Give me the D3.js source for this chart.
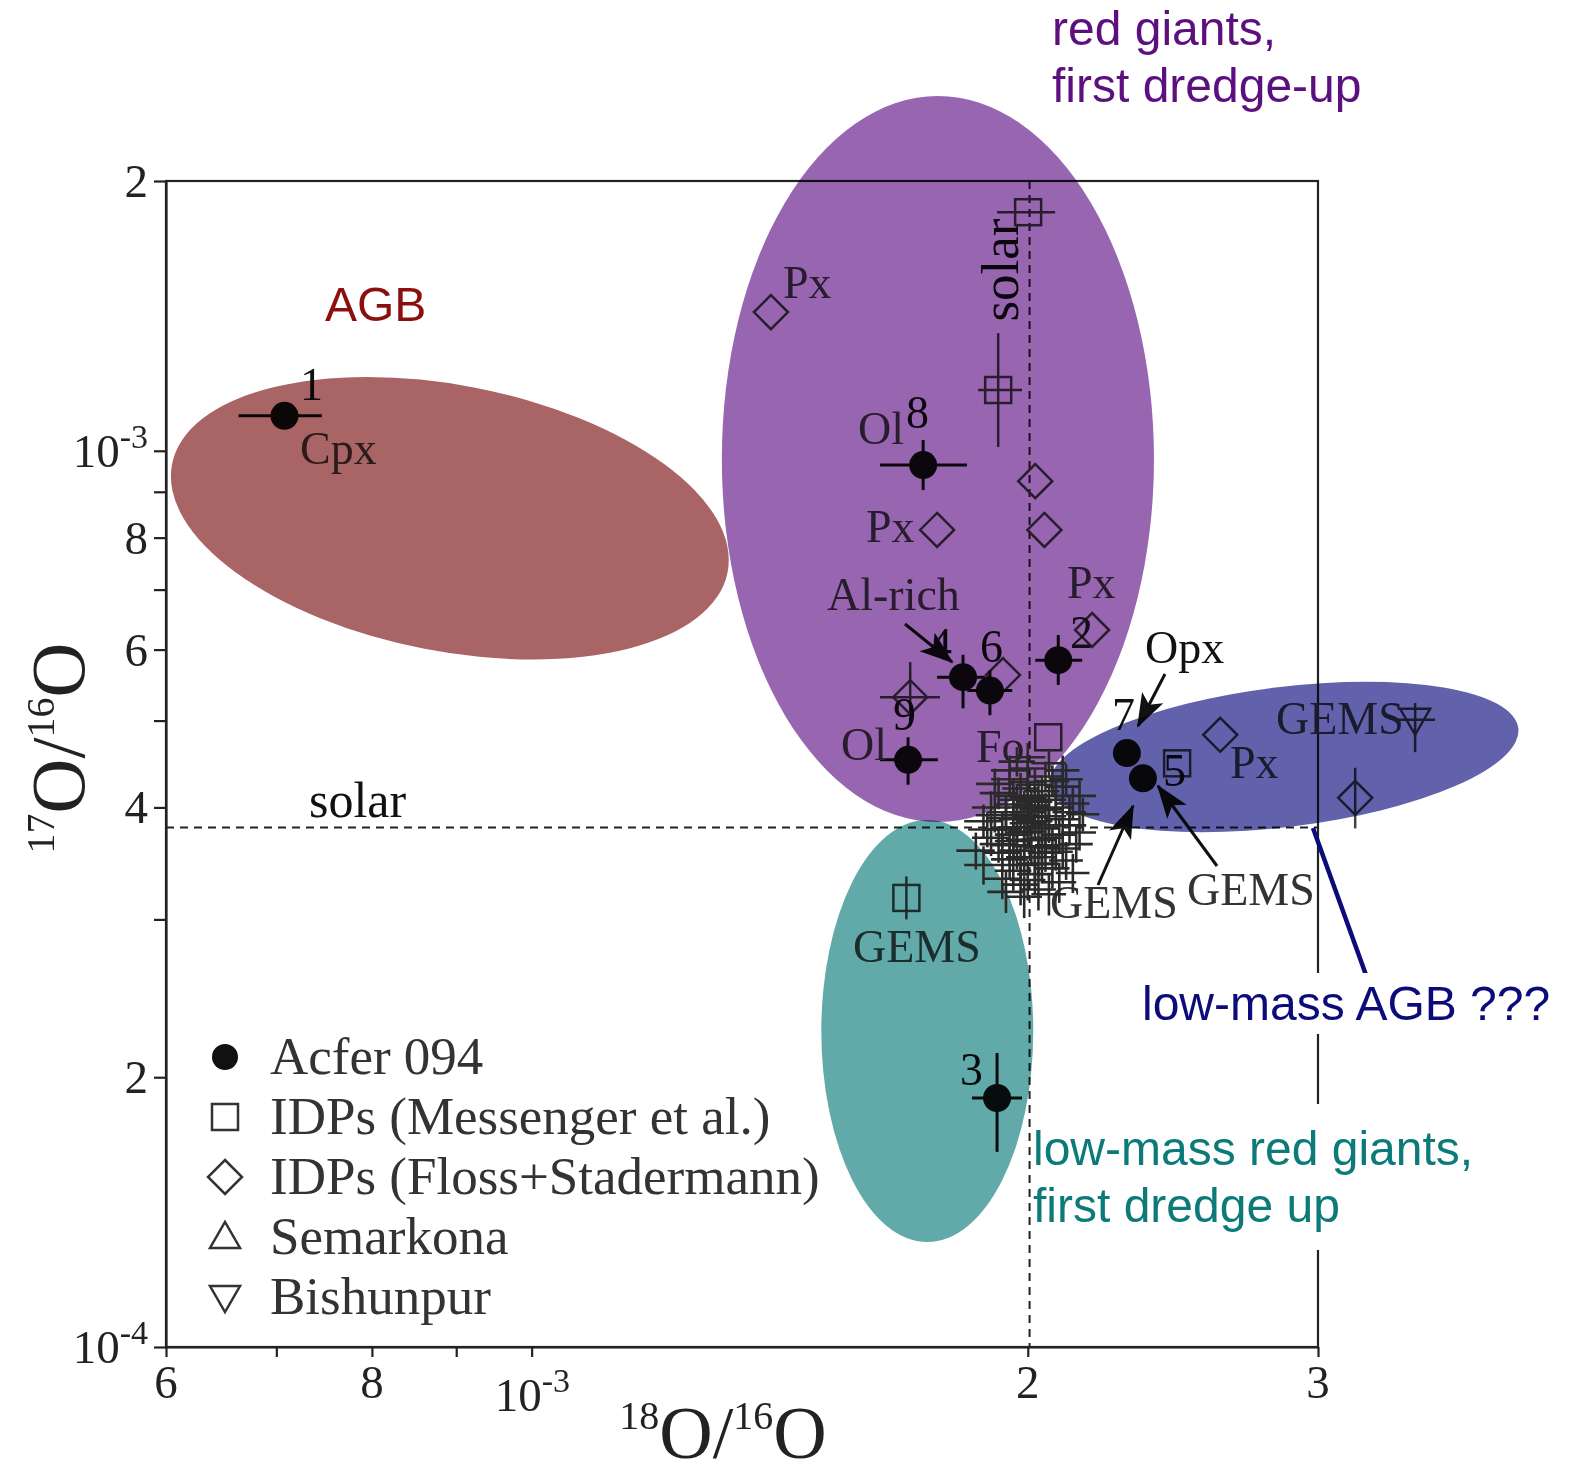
<!DOCTYPE html>
<html>
<head>
<meta charset="utf-8">
<script src="https://cdn.jsdelivr.net/npm/d3@7"></script>
<style>
  body { margin: 0; background: #fff; }
  .serif { font-family: "Liberation Serif", "Times New Roman", serif; }
  .sans { font-family: "Liberation Sans", Arial, sans-serif; }
</style>
</head>
<body>
<div class="chart"></div>
<script>
// Oxygen isotope ratios: 17O/16O vs 18O/16O
var svgWidth = 1570;
var svgHeight = 1476;

// Acfer 094 grains (filled circles) with error ranges
var acfer094 = [
  { id: "1", x: 7.08e-4, y: 1.094e-3, xe: [6.64e-4, 7.46e-4], ye: [1.061e-3, 1.125e-3] },
  { id: "8", x: 1.728e-3, y: 9.64e-4, xe: [1.627e-3, 1.837e-3], ye: [9.04e-4, 1.028e-3] },
  { id: "4", x: 1.827e-3, y: 5.59e-4, xe: [1.762e-3, 1.884e-3], ye: [5.16e-4, 5.92e-4] },
  { id: "6", x: 1.897e-3, y: 5.40e-4, xe: [1.838e-3, 1.957e-3], ye: [5.07e-4, 5.69e-4] },
  { id: "2", x: 2.087e-3, y: 5.84e-4, xe: [2.021e-3, 2.158e-3], ye: [5.48e-4, 6.23e-4] },
  { id: "9", x: 1.692e-3, y: 4.52e-4, xe: [1.627e-3, 1.764e-3], ye: [4.24e-4, 4.79e-4] },
  { id: "7", x: 2.297e-3, y: 4.60e-4, xe: null, ye: null },
  { id: "5", x: 2.349e-3, y: 4.31e-4, xe: null, ye: null },
  { id: "3", x: 1.916e-3, y: 1.896e-4, xe: [1.850e-3, 1.984e-3], ye: [1.651e-4, 2.128e-4] }
];

// IDPs (Messenger et al.) - open squares
var idpMessenger = [
  { x: 2.001e-3, y: 1.846e-3, xe: [1.916e-3, 2.078e-3], ye: null },
  { x: 1.919e-3, y: 1.169e-3, xe: [1.866e-3, 1.984e-3], ye: [1.010e-3, 1.353e-3] },
  { x: 2.058e-3, y: 4.79e-4, xe: null, ye: null },
  { x: 1.688e-3, y: 3.17e-4, xe: null, ye: [3.00e-4, 3.35e-4] },
  { x: 2.464e-3, y: 4.48e-4, xe: null, ye: null }
];

// IDPs (Floss+Stadermann) - open diamonds
var idpFloss = [
  { x: 1.397e-3, y: 1.428e-3, xe: null, ye: null },
  { x: 2.021e-3, y: 9.25e-4, xe: null, ye: null },
  { x: 2.047e-3, y: 8.16e-4, xe: null, ye: null },
  { x: 1.762e-3, y: 8.16e-4, xe: null, ye: null },
  { x: 2.188e-3, y: 6.31e-4, xe: null, ye: null },
  { x: 2.617e-3, y: 4.82e-4, xe: null, ye: null },
  { x: 3.160e-3, y: 4.10e-4, xe: null, ye: [3.79e-4, 4.43e-4] },
  { x: 1.932e-3, y: 5.62e-4, xe: null, ye: null },
  { x: 1.697e-3, y: 5.31e-4, xe: [1.627e-3, 1.769e-3], ye: [4.94e-4, 5.81e-4] }
];

// Bishunpur - open down triangles
var bishunpur = [
  { x: 3.436e-3, y: 5.01e-4, xe: [3.355e-3, 3.533e-3], ye: [4.61e-4, 5.23e-4] }
];

// near-solar grains (dense cloud of error crosses)
var solarGrains = [
  [1.95e-3, 4.30e-4], [2.00e-3, 4.42e-4], [2.05e-3, 4.33e-4], [2.10e-3, 4.40e-4], [1.97e-3, 4.50e-4],
  [1.92e-3, 4.15e-4], [1.98e-3, 4.20e-4], [2.04e-3, 4.17e-4], [2.10e-3, 4.22e-4], [2.15e-3, 4.12e-4],
  [1.90e-3, 4.00e-4], [1.96e-3, 4.03e-4], [2.02e-3, 4.06e-4], [2.08e-3, 4.00e-4], [2.13e-3, 4.04e-4],
  [1.88e-3, 3.86e-4], [1.94e-3, 3.89e-4], [2.00e-3, 3.84e-4], [2.06e-3, 3.91e-4], [2.12e-3, 3.82e-4],
  [2.16e-3, 3.93e-4], [1.90e-3, 3.70e-4], [1.96e-3, 3.73e-4], [2.03e-3, 3.68e-4], [2.09e-3, 3.73e-4],
  [2.14e-3, 3.64e-4], [1.93e-3, 3.56e-4], [1.99e-3, 3.52e-4], [2.05e-3, 3.56e-4], [2.11e-3, 3.49e-4],
  [1.96e-3, 3.40e-4], [2.02e-3, 3.37e-4], [2.07e-3, 3.42e-4], [1.98e-3, 3.28e-4], [2.03e-3, 3.24e-4],
  [1.86e-3, 3.58e-4], [1.88e-3, 3.45e-4], [2.00e-3, 3.95e-4], [1.97e-3, 3.80e-4], [2.04e-3, 3.79e-4],
  [2.01e-3, 3.62e-4], [1.93e-3, 3.33e-4], [2.09e-3, 3.30e-4], [1.91e-3, 4.25e-4], [2.06e-3, 4.48e-4],
  [1.99e-3, 3.18e-4], [2.13e-3, 3.38e-4], [1.95e-3, 3.63e-4], [2.07e-3, 3.63e-4], [2.00e-3, 4.10e-4],
  [1.94e-3, 3.95e-4], [1.99e-3, 4.00e-4], [2.03e-3, 3.98e-4], [2.06e-3, 4.08e-4], [1.96e-3, 4.12e-4],
  [2.02e-3, 4.24e-4], [2.07e-3, 4.28e-4], [1.93e-3, 3.78e-4], [1.99e-3, 3.75e-4], [2.06e-3, 3.82e-4],
  [2.10e-3, 3.88e-4], [1.92e-3, 3.64e-4], [1.97e-3, 3.58e-4], [2.03e-3, 3.52e-4], [2.08e-3, 3.57e-4],
  [1.98e-3, 3.45e-4], [2.04e-3, 3.46e-4], [2.00e-3, 3.32e-4], [1.95e-3, 3.50e-4], [2.10e-3, 3.60e-4],
  [1.89e-3, 3.78e-4], [1.91e-3, 3.92e-4], [2.12e-3, 3.95e-4], [2.01e-3, 3.90e-4], [1.97e-3, 3.88e-4],
  [2.05e-3, 3.70e-4], [1.99e-3, 3.68e-4], [2.03e-3, 4.12e-4], [1.95e-3, 4.40e-4], [2.08e-3, 4.12e-4],
  [1.94e-3, 3.22e-4], [2.06e-3, 3.20e-4], [2.11e-3, 4.30e-4], [2.00e-3, 4.55e-4], [2.15e-3, 3.75e-4],
  [1.98e-3, 3.92e-4], [2.02e-3, 3.86e-4], [1.96e-3, 3.67e-4], [2.04e-3, 3.61e-4], [2.01e-3, 4.02e-4],
  [1.97e-3, 4.08e-4], [2.05e-3, 3.98e-4], [2.00e-3, 3.76e-4], [2.02e-3, 3.46e-4], [2.00e-3, 4.27e-4]
];
var solarGrainErr = [0.05e-3, 0.17e-4];

// solar reference ratios
var solar = { x: 2.005e-3, y: 3.8e-4 };

// stellar source regions: centre (data), semi-axes in decades, tilt in degrees
var regions = [
  { key: "agb", x: 8.92e-4, y: 8.41e-4, dx: 0.1717, dy: 0.1484, tilt: 11 },
  { key: "rg", x: 1.764e-3, y: 9.79e-4, dx: 0.1311, dy: 0.4050, tilt: 0 },
  { key: "lmrg", x: 1.738e-3, y: 2.252e-4, dx: 0.0643, dy: 0.2354, tilt: 0 },
  { key: "lmagb", x: 2.861e-3, y: 4.553e-4, dx: 0.1432, dy: 0.0781, tilt: -7 }
];

// axis ticks and labels
var xTicks = [6e-4, 7e-4, 8e-4, 9e-4, 1e-3, 2e-3, 3e-3];
var xTickLabels = [["6"], [""], ["8"], [""], ["10", "-3"], ["2"], ["3"]];
var yTicks = [1e-4, 2e-4, 3e-4, 4e-4, 5e-4, 6e-4, 7e-4, 8e-4, 9e-4, 1e-3, 2e-3];
var yTickLabels = [["10", "-4"], ["2"], [""], ["4"], [""], ["6"], [""], ["8"], [""], ["10", "-3"], ["2"]];

var legendLabels = ["Acfer 094", "IDPs (Messenger et al.)", "IDPs (Floss+Stadermann)", "Semarkona", "Bishunpur"];

var regionColors = { agb: "#a96565", rg: "#9866b0", lmrg: "#62aaa9", lmagb: "#6262ac" };

var svg = d3.select(".chart")
  .append("svg")
  .attr("width", svgWidth)
  .attr("height", svgHeight);

svg.append("rect").attr("width", svgWidth).attr("height", svgHeight).attr("fill", "#fff");

var x = d3.scaleLog().domain([6e-4, 3e-3]).range([166, 1318]);
var y = d3.scaleLog().domain([1e-4, 2e-3]).range([1347, 181]);

var ink = "#222";

// frame
svg.append("rect")
  .attr("x", x(6e-4)).attr("y", y(2e-3))
  .attr("width", x(3e-3) - x(6e-4)).attr("height", y(1e-4) - y(2e-3))
  .attr("fill", "none").attr("stroke", ink).attr("stroke-width", 2.2);

// axes
var bottomAxis = d3.axisBottom(x).tickValues(xTicks).tickFormat("").tickSize(10).tickSizeOuter(0);
var leftAxis = d3.axisLeft(y).tickValues(yTicks).tickFormat("").tickSize(12).tickSizeOuter(0);

svg.append("g").attr("transform", `translate(0, ${y(1e-4)})`).call(bottomAxis)
  .call(g => g.selectAll("line,path").attr("stroke", ink).attr("stroke-width", 2.2));
svg.append("g").attr("transform", `translate(${x(6e-4)}, 0)`).call(leftAxis)
  .call(g => g.selectAll("line,path").attr("stroke", ink).attr("stroke-width", 2.2));

// tick labels (with superscript powers)
xTicks.forEach(function(v, i) {
  var lab = xTickLabels[i];
  if (!lab[0]) return;
  var t = svg.append("text").attr("class", "serif").attr("font-size", 47).attr("fill", ink);
  if (lab.length > 1) {
    t.attr("x", x(v) - 37).attr("y", y(1e-4) + 64);
    t.append("tspan").text(lab[0]);
    t.append("tspan").attr("dy", -19).attr("font-size", 34).text(lab[1]);
  } else {
    t.attr("x", x(v)).attr("y", y(1e-4) + 51).attr("text-anchor", "middle").text(lab[0]);
  }
});

yTicks.forEach(function(v, i) {
  var lab = yTickLabels[i];
  if (!lab[0]) return;
  var t = svg.append("text").attr("class", "serif").attr("font-size", 47).attr("fill", ink)
    .attr("text-anchor", "end").attr("x", 148).attr("y", y(v) + 16);
  t.append("tspan").text(lab[0]);
  if (lab.length > 1) t.append("tspan").attr("dy", -19).attr("font-size", 34).text(lab[1]);
});

// axis titles
var xt = svg.append("text").attr("class", "serif").attr("fill", ink)
  .attr("x", 723).attr("y", 1458).attr("text-anchor", "middle").attr("font-size", 74);
xt.append("tspan").attr("font-size", 40).attr("dy", -29).text("18");
xt.append("tspan").attr("dy", 29).text("O/");
xt.append("tspan").attr("font-size", 40).attr("dy", -29).text("16");
xt.append("tspan").attr("dy", 29).text("O");

var yt = svg.append("text").attr("class", "serif").attr("fill", ink)
  .attr("transform", "translate(84, 748) rotate(-90)").attr("text-anchor", "middle").attr("font-size", 76);
yt.append("tspan").attr("font-size", 40).attr("dy", -30).text("17");
yt.append("tspan").attr("dy", 30).text("O/");
yt.append("tspan").attr("font-size", 40).attr("dy", -30).text("16");
yt.append("tspan").attr("dy", 30).text("O");

// solar dashed lines
svg.append("line")
  .attr("x1", x(6e-4)).attr("x2", x(3e-3)).attr("y1", y(solar.y)).attr("y2", y(solar.y))
  .attr("stroke", ink).attr("stroke-width", 2).attr("stroke-dasharray", "8,6");
svg.append("line")
  .attr("x1", x(solar.x)).attr("x2", x(solar.x)).attr("y1", y(2e-3)).attr("y2", y(1e-4))
  .attr("stroke", ink).attr("stroke-width", 2).attr("stroke-dasharray", "8,6");
svg.append("text").attr("class", "serif").attr("font-size", 50).attr("fill", "#111")
  .attr("x", 309).attr("y", y(solar.y) - 10).text("solar");
svg.append("text").attr("class", "serif").attr("font-size", 53).attr("fill", "#111")
  .attr("transform", `translate(${x(solar.x) - 12}, 270) rotate(-90)`).attr("text-anchor", "middle").text("solar");

// data layer
var dataG = svg.append("g");

function errorBars(g, data, color, width) {
  data.forEach(function(d) {
    if (d.xe) g.append("line").attr("x1", x(d.xe[0])).attr("x2", x(d.xe[1]))
      .attr("y1", y(d.y)).attr("y2", y(d.y)).attr("stroke", color).attr("stroke-width", width);
    if (d.ye) g.append("line").attr("y1", y(d.ye[0])).attr("y2", y(d.ye[1]))
      .attr("x1", x(d.x)).attr("x2", x(d.x)).attr("stroke", color).attr("stroke-width", width);
  });
}

var diamondPath = "M0,-17L17,0L0,17L-17,0Z";
var downTriPath = "M-15,-11L15,-11L0,15Z";
var upTriPath = "M-15,11L15,11L0,-15Z";

errorBars(dataG, idpMessenger, "#444", 2.5);
dataG.selectAll(".sq").data(idpMessenger).enter().append("rect")
  .attr("x", d => x(d.x) - 13).attr("y", d => y(d.y) - 13)
  .attr("width", 26).attr("height", 26)
  .attr("fill", "none").attr("stroke", "#444").attr("stroke-width", 2.5);

errorBars(dataG, idpFloss, "#444", 2.5);
dataG.selectAll(".dm").data(idpFloss).enter().append("path")
  .attr("transform", d => `translate(${x(d.x)},${y(d.y)})`)
  .attr("d", diamondPath).attr("fill", "none").attr("stroke", "#444").attr("stroke-width", 2.5);

errorBars(dataG, bishunpur, "#444", 2.5);
dataG.selectAll(".tr").data(bishunpur).enter().append("path")
  .attr("transform", d => `translate(${x(d.x)},${y(d.y)})`)
  .attr("d", downTriPath).attr("fill", "none").attr("stroke", "#444").attr("stroke-width", 2.5);

errorBars(dataG, acfer094, "#111", 3);
dataG.selectAll(".ac").data(acfer094).enter().append("circle")
  .attr("cx", d => x(d.x)).attr("cy", d => y(d.y)).attr("r", 14).attr("fill", "#111");

// point and phase labels
var notes = [
  ["1", 300, 400, "#111"], ["Cpx", 300, 464, "#444"],
  ["Px", 783, 298, "#444"], ["8", 906, 428, "#111"], ["Ol", 858, 444, "#444"],
  ["Px", 866, 542, "#444"], ["Al-rich", 827, 610, "#444"], ["Px", 1067, 598, "#444"],
  ["2", 1070, 648, "#222"], ["4", 929, 660, "#111"], ["6", 980, 662, "#111"],
  ["9", 893, 730, "#111"], ["Ol", 841, 760, "#444"], ["Fo", 976, 762, "#444"],
  ["Opx", 1145, 663, "#111"], ["7", 1112, 730, "#111"], ["5", 1163, 786, "#111"],
  ["Px", 1230, 778, "#444"], ["GEMS", 1276, 734, "#444"],
  ["GEMS", 1050, 918, "#333"], ["GEMS", 1187, 905, "#333"],
  ["GEMS", 853, 962, "#444"], ["3", 960, 1085, "#111"]
];
dataG.selectAll(".note").data(notes).enter().append("text")
  .attr("class", "serif").attr("font-size", 46)
  .attr("x", d => d[1]).attr("y", d => d[2]).attr("fill", d => d[3]).text(d => d[0]);

// arrows
svg.append("defs").append("marker")
  .attr("id", "head").attr("markerUnits", "userSpaceOnUse")
  .attr("markerWidth", 36).attr("markerHeight", 26).attr("refX", 32).attr("refY", 12)
  .attr("orient", "auto")
  .append("path").attr("d", "M0,0L34,12L0,24L8,12Z").attr("fill", "#111");

var arrows = [
  [[905, 624], [952, 662]],
  [[1165, 674], [1138, 726]],
  [[1098, 885], [1133, 806]],
  [[1217, 866], [1158, 786]]
];
dataG.selectAll(".arr").data(arrows).enter().append("line")
  .attr("x1", d => d[0][0]).attr("y1", d => d[0][1]).attr("x2", d => d[1][0]).attr("y2", d => d[1][1])
  .attr("stroke", "#111").attr("stroke-width", 3).attr("marker-end", "url(#head)");

// regions (multiplied over the data)
regions.forEach(function(r) {
  var cx = x(r.x), cy = y(r.y);
  var rx = x(r.x * Math.pow(10, r.dx)) - cx;
  var ry = cy - y(r.y * Math.pow(10, r.dy));
  svg.append("ellipse")
    .attr("transform", `translate(${cx},${cy}) rotate(${r.tilt})`)
    .attr("rx", rx).attr("ry", ry)
    .attr("fill", regionColors[r.key])
    .style("mix-blend-mode", "multiply");
});

// near-solar cloud on top
var cloud = svg.append("g").attr("stroke", "#2a2a2a").attr("stroke-width", 2.6);
solarGrains.forEach(function(p) {
  cloud.append("line").attr("x1", x(p[0] - solarGrainErr[0])).attr("x2", x(p[0] + solarGrainErr[0]))
    .attr("y1", y(p[1])).attr("y2", y(p[1]));
  cloud.append("line").attr("y1", y(p[1] - solarGrainErr[1])).attr("y2", y(p[1] + solarGrainErr[1]))
    .attr("x1", x(p[0])).attr("x2", x(p[0]));
});

// legend
var legend = svg.append("g").attr("transform", "translate(225, 1057)");
legendLabels.forEach(function(lab, i) {
  var row = legend.append("g").attr("transform", `translate(0, ${i * 60})`);
  if (i === 0) row.append("circle").attr("r", 13).attr("fill", "#111");
  if (i === 1) row.append("rect").attr("x", -13).attr("y", -13).attr("width", 26).attr("height", 26)
    .attr("fill", "none").attr("stroke", "#333").attr("stroke-width", 2.5);
  if (i === 2) row.append("path").attr("d", diamondPath).attr("fill", "none").attr("stroke", "#333").attr("stroke-width", 2.5);
  if (i === 3) row.append("path").attr("d", upTriPath).attr("fill", "none").attr("stroke", "#333").attr("stroke-width", 2.5);
  if (i === 4) row.append("path").attr("d", downTriPath).attr("fill", "none").attr("stroke", "#333").attr("stroke-width", 2.5);
  row.append("text").attr("class", "serif").attr("font-size", 53).attr("fill", "#333")
    .attr("x", 45).attr("y", 17).text(lab);
});

// source annotations
function sansBlock(lines, x0, y0, color, pad) {
  var g = svg.append("g");
  var bg = g.append("rect").attr("fill", "#fff");
  var t = g.append("text").attr("class", "sans").attr("font-size", 48).attr("fill", color);
  lines.forEach(function(s, i) {
    t.append("tspan").attr("x", x0).attr("y", y0 + i * 57).text(s);
  });
  if (pad) {
    var b = t.node().getBBox();
    bg.attr("x", b.x - 2).attr("y", b.y - pad).attr("width", b.width + 4).attr("height", b.height + 2 * pad);
  }
}

sansBlock(["AGB"], 325, 321, "#8a1010", 0);
sansBlock(["red giants,", "first dredge-up"], 1052, 45, "#5c0f7f", 0);

svg.append("line").attr("x1", 1313).attr("y1", 828).attr("x2", 1366).attr("y2", 975)
  .attr("stroke", "#0b0b7a").attr("stroke-width", 4.5);
sansBlock(["low-mass AGB ???"], 1142, 1020, "#0b0b7a", 4);
sansBlock(["low-mass red giants,", "first dredge up"], 1033, 1165, "#0b7a78", 18);
</script>
</body>
</html>
